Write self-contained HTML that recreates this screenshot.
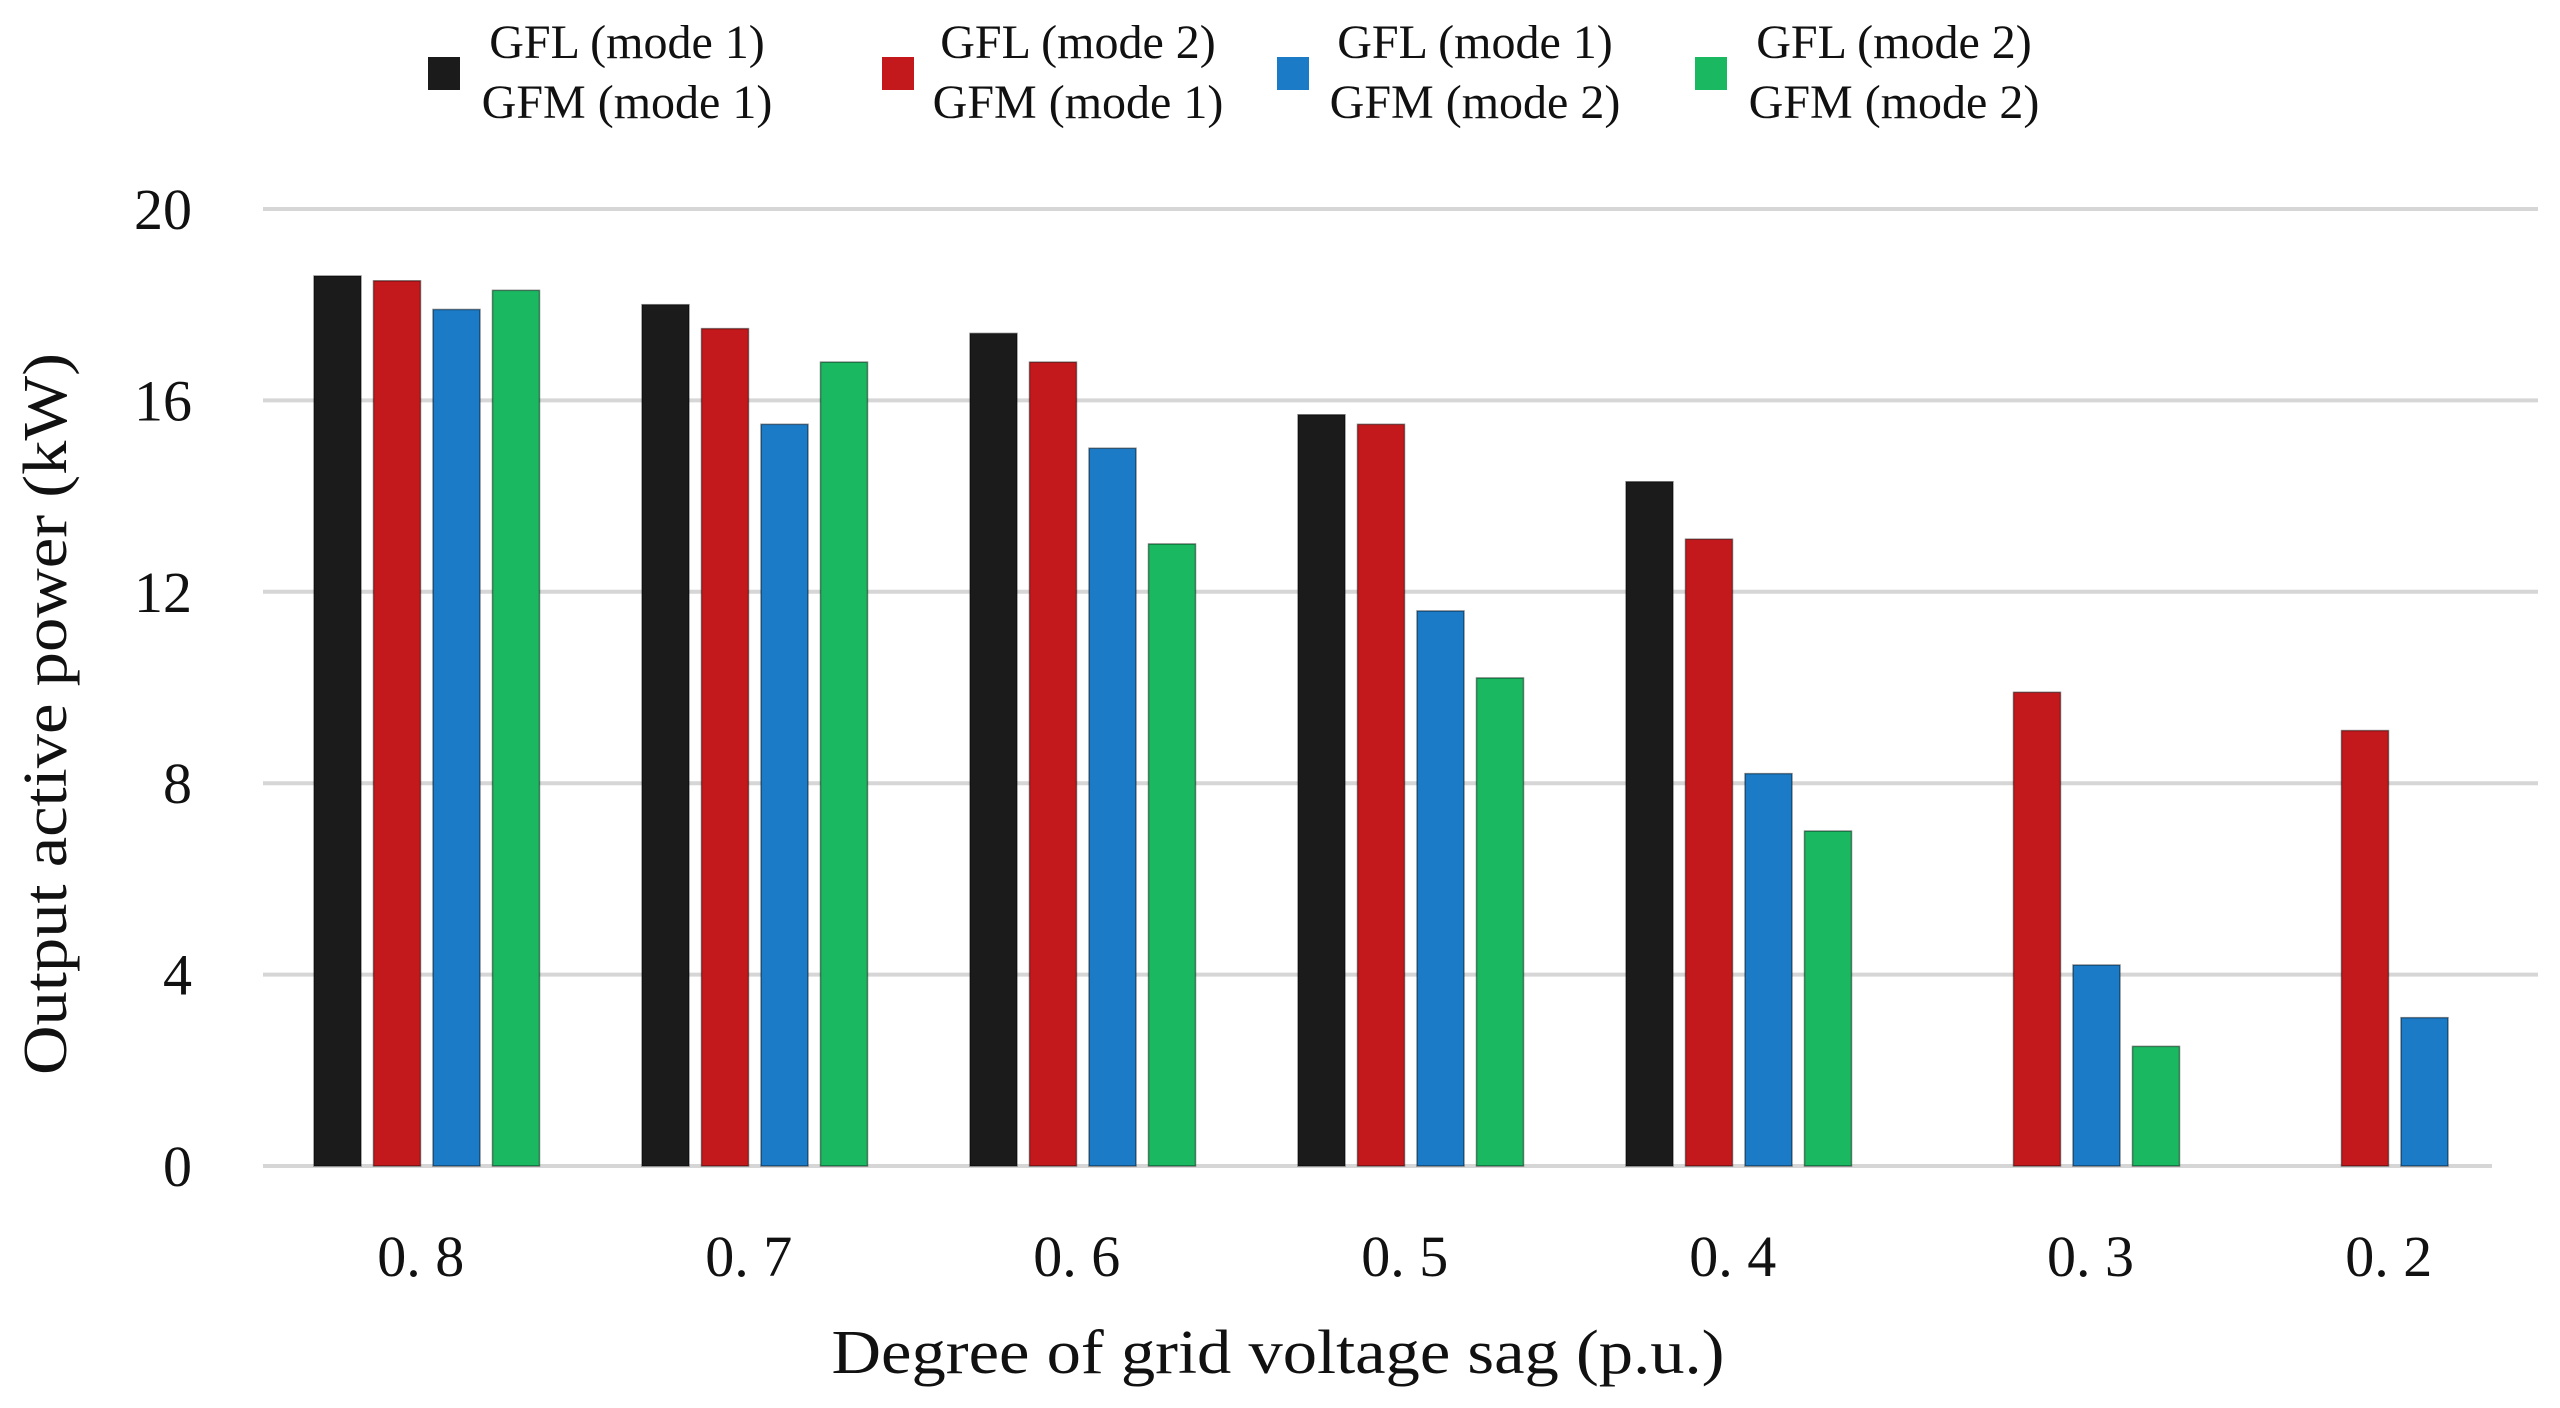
<!DOCTYPE html>
<html><head><meta charset="utf-8"><style>
html,body{margin:0;padding:0;background:#fff;}
svg{display:block;}
text{font-family:"Liberation Serif",serif;fill:#111;}
</style></head><body>
<svg id="chart" width="2560" height="1408" viewBox="0 0 2560 1408" xmlns="http://www.w3.org/2000/svg">
<g id="grid"></g>
<g id="yticks"></g>
<g id="bars"></g>
<g id="xticks"></g>
<text transform="translate(66,714) rotate(-90)" text-anchor="middle" font-size="62" textLength="722" lengthAdjust="spacingAndGlyphs">Output active power (kW)</text>
<text x="1278" y="1373" text-anchor="middle" font-size="62" textLength="893" lengthAdjust="spacingAndGlyphs">Degree of grid voltage sag (p.u.)</text>
<g id="legend"></g>
</svg>
<script>
const categories = ["0. 8","0. 7","0. 6","0. 5","0. 4","0. 3","0. 2"];
const seriesNames = [["GFL (mode 1)","GFM (mode 1)"],["GFL (mode 2)","GFM (mode 1)"],["GFL (mode 1)","GFM (mode 2)"],["GFL (mode 2)","GFM (mode 2)"]];
const s1 = [18.6,18.0,17.4,15.7,14.3,null,null];
const s2 = [18.5,17.5,16.8,15.5,13.1,9.9,9.1];
const s3 = [17.9,15.5,15.0,11.6,8.2,4.2,3.1];
const s4 = [18.3,16.8,13.0,10.2,7.0,2.5,null];
const yTicks = [0,4,8,12,16,20];
const colors = ["#1b1b1b","#c4191c","#1b7bc6","#1bb862"];
const series = [s1,s2,s3,s4];
const NS="http://www.w3.org/2000/svg";
const y0=1166, yTop=209, vMax=20;
function yScale(v){return y0-(y0-yTop)*v/vMax;}
const groupX0=314, groupStep=328, barStep=59.5, barW=47;
function xBar(g,s){return groupX0+g*groupStep+s*barStep;}
function mk(tag,attrs,parent){const e=document.createElementNS(NS,tag);for(const k in attrs)e.setAttribute(k,attrs[k]);parent.appendChild(e);return e;}
const grid=document.getElementById('grid'), yt=document.getElementById('yticks');
yTicks.forEach(t=>{
  const y=yScale(t);
  const l=mk('line',{x1:263,x2:t===0?2492:2538,y1:y,y2:y,stroke:'#d6d6d6','stroke-width':4},grid);
  
  
  const tx=mk('text',{x:192,y:y+20,'text-anchor':'end','font-size':58},yt);
  tx.textContent=t;
  
  
});
const bars=document.getElementById('bars'), xt=document.getElementById('xticks');
categories.forEach((c,g)=>{
  let minX=1e9,maxX=-1e9;
  series.forEach((s,si)=>{
    const v=s[g]; if(v==null) return;
    const x=xBar(g,si), y=yScale(v);
    minX=Math.min(minX,x); maxX=Math.max(maxX,x+barW);
    const r=mk('rect',{x:x,y:y,width:barW,height:y0-y,fill:colors[si],stroke:'rgba(0,0,0,0.45)','stroke-width':1.5},bars);
    
    
  });
  const tx=mk('text',{x:(minX+maxX)/2-6,y:1276,'text-anchor':'middle','font-size':58},xt);
  tx.textContent=c;
  
  
});
const lg=document.getElementById('legend');
const legSq=[428,882,1277,1695], legTx=[627,1078,1475,1894];
seriesNames.forEach((nm,i)=>{
  const g=mk('g',{},lg);
  
  
  mk('rect',{x:legSq[i],y:57,width:32,height:33,fill:colors[i]},g);
  const t1=mk('text',{x:legTx[i],y:58,'text-anchor':'middle','font-size':48},g); t1.textContent=nm[0];
  const t2=mk('text',{x:legTx[i],y:118,'text-anchor':'middle','font-size':48},g); t2.textContent=nm[1];
});
</script>
</body></html>
